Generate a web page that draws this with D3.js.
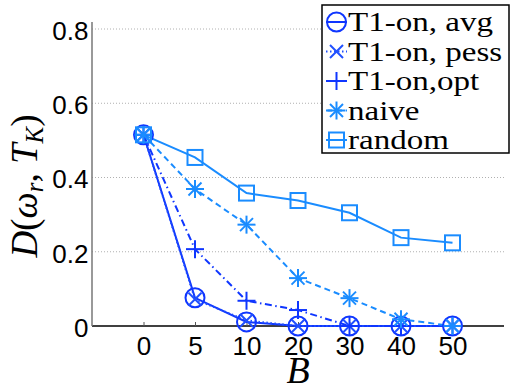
<!DOCTYPE html>
<html>
<head>
<meta charset="utf-8">
<script src="https://cdn.jsdelivr.net/npm/d3@7"></script>
<style>
  html, body { margin: 0; padding: 0; background: #fff; }
  svg { display: block; }
</style>
</head>
<body>
<svg id="chart" width="513" height="392"></svg>
<script>
// Budget values B (equally spaced categories on the x axis)
const categories = ["0", "5", "10", "20", "30", "40", "50"];
const yTicks = [0, 0.2, 0.4, 0.6, 0.8];
const yTickLabels = ["0", "0.2", "0.4", "0.6", "0.8"];

// D(omega_r, T_K) for each method
const seriesNames = ["T1-on, avg", "T1-on, pess", "T1-on,opt", "naive", "random"];
const avgValues    = [0.515, 0.076, 0.011, 0.0, 0.0, 0.0, 0.0];
const pessValues   = [0.515, 0.072, 0.015, 0.0, 0.0, 0.0, 0.0];
const optValues    = [0.515, 0.207, 0.068, 0.043, 0.0, 0.0, 0.0];
const naiveValues  = [0.515, 0.369, 0.273, 0.129, 0.075, 0.018, 0.0];
const randomValues = [0.515, 0.454, 0.358, 0.338, 0.305, 0.238, 0.224];

const SANS = "'Liberation Sans'";
const SERIF = "'Liberation Serif'";

const dark = "#0f36ff", light = "#1a8cff";
const series = [
  { name: seriesNames[0], values: avgValues,    color: dark,  dash: null,             marker: "circle" },
  { name: seriesNames[1], values: pessValues,   color: "#2050ff", dash: "1.5,2.5",    marker: "x" },
  { name: seriesNames[2], values: optValues,    color: dark,  dash: "7,3.5,1.5,3.5",  marker: "plus" },
  { name: seriesNames[3], values: naiveValues,  color: light, dash: "6,4",            marker: "star" },
  { name: seriesNames[4], values: randomValues, color: light, dash: null,             marker: "square" }
];

const svg = d3.select("#chart");
const x = d3.scaleLinear().domain([-1, categories.length]).range([92, 504]);
const y = d3.scaleLinear().domain([0, 0.8]).range([326, 29]);
const yTop = y(0.819);

// dotted grid
svg.append("g").selectAll("line")
  .data(yTicks.filter(v => v > 0))
  .join("line")
  .attr("x1", x(-1)).attr("x2", x(categories.length))
  .attr("y1", d => y(d)).attr("y2", d => y(d))
  .attr("stroke", "#b0b0b0").attr("stroke-width", 1)
  .attr("stroke-dasharray", "1,2");

// x axis
const xAxis = d3.axisBottom(x)
  .tickValues(d3.range(categories.length))
  .tickFormat(i => categories[i])
  .tickSize(-4).tickPadding(10.5);
const gx = svg.append("g").attr("transform", `translate(0,${y(0)})`).call(xAxis);
gx.attr("font-family", null).attr("font-size", null);
gx.select(".domain").attr("d", `M${x(-1)},0H${x(categories.length)}`).attr("stroke", "#000").attr("stroke-width", 1.5);
gx.selectAll(".tick line").attr("stroke", "#555");
gx.selectAll("text").style("font-family", SANS).style("font-size", "26px").attr("fill", "#000");

// y axis
const yAxis = d3.axisLeft(y).tickValues(yTicks).tickFormat((d, i) => yTickLabels[i]).tickSize(0).tickPadding(3.5);
const gy = svg.append("g").attr("transform", `translate(${x(-1)},0)`).call(yAxis);
gy.attr("font-family", null).attr("font-size", null);
gy.select(".domain").attr("d", `M0,${y(0)}V${yTop}`).attr("stroke", "#777").attr("stroke-width", 1.5);
gy.selectAll("text").style("font-family", SANS).style("font-size", "26px")
  .attr("dy", "0.4em").attr("fill", "#000");

// axis titles
svg.append("text")
  .attr("x", (x(-1) + x(categories.length)) / 2).attr("y", 383)
  .attr("text-anchor", "middle")
  .style("font-family", SERIF).style("font-style", "italic").style("font-size", "38px")
  .text("B");

const yl = svg.append("text")
  .attr("transform", "translate(37,186) rotate(-90)")
  .attr("text-anchor", "middle")
  .style("font-family", SERIF).style("font-size", "37px");
yl.append("tspan").style("font-style", "italic").text("D");
yl.append("tspan").text("(");
yl.append("tspan").style("font-style", "italic").text("ω");
yl.append("tspan").style("font-style", "italic").style("font-size", "25px").attr("dy", 6).text("r");
yl.append("tspan").attr("dy", -6).text(", ");
yl.append("tspan").style("font-style", "italic").text("T");
yl.append("tspan").style("font-style", "italic").style("font-size", "25px").attr("dy", 6).text("K");
yl.append("tspan").attr("dy", -6).text(")");

// marker drawing
function drawMarker(g, type, cx, cy, color) {
  const sw = 2;
  if (type === "circle") {
    g.append("circle").attr("cx", cx).attr("cy", cy).attr("r", 9.5)
      .attr("fill", "none").attr("stroke", color).attr("stroke-width", sw);
  } else if (type === "square") {
    g.append("rect").attr("x", cx - 7.5).attr("y", cy - 7.5).attr("width", 15).attr("height", 15)
      .attr("fill", "none").attr("stroke", color).attr("stroke-width", sw);
  } else {
    let segs = [];
    if (type === "x") { const s = 6.5; segs = [[-s, -s, s, s], [-s, s, s, -s]]; }
    if (type === "plus") { const s = 9; segs = [[-s, 0, s, 0], [0, -s, 0, s]]; }
    if (type === "star") { const s = 9, d = 6.5; segs = [[-s, 0, s, 0], [0, -s, 0, s], [-d, -d, d, d], [-d, d, d, -d]]; }
    segs.forEach(sg => g.append("line")
      .attr("x1", cx + sg[0]).attr("y1", cy + sg[1]).attr("x2", cx + sg[2]).attr("y2", cy + sg[3])
      .attr("stroke", color).attr("stroke-width", sw));
  }
}

const line = d3.line().x((d, i) => x(i)).y(d => y(d));
const plot = svg.append("g");
series.forEach(s => {
  plot.append("path").datum(s.values).attr("d", line)
    .attr("fill", "none").attr("stroke", s.color).attr("stroke-width", 2)
    .attr("stroke-dasharray", s.dash);
});
series.forEach(s => {
  const g = plot.append("g");
  s.values.forEach((v, i) => drawMarker(g, s.marker, x(i), y(v), s.color));
});

// legend
const lg = svg.append("g");
lg.append("rect").attr("x", 322).attr("y", 5).attr("width", 187).attr("height", 148)
  .attr("fill", "#fff").attr("stroke", "#000").attr("stroke-width", 1.5);
series.forEach((s, i) => {
  const cy = 22 + i * 29.5;
  lg.append("line").attr("x1", 326).attr("x2", 347).attr("y1", cy).attr("y2", cy)
    .attr("stroke", s.color).attr("stroke-width", 2).attr("stroke-dasharray", s.dash);
  drawMarker(lg, s.marker, 336.5, cy, s.color);
  lg.append("text")
    .attr("transform", `translate(348,${cy + 9}) scale(1.18,1)`)
    .style("font-family", SERIF).style("font-size", "28px")
    .text(s.name);
});
</script>
</body>
</html>
